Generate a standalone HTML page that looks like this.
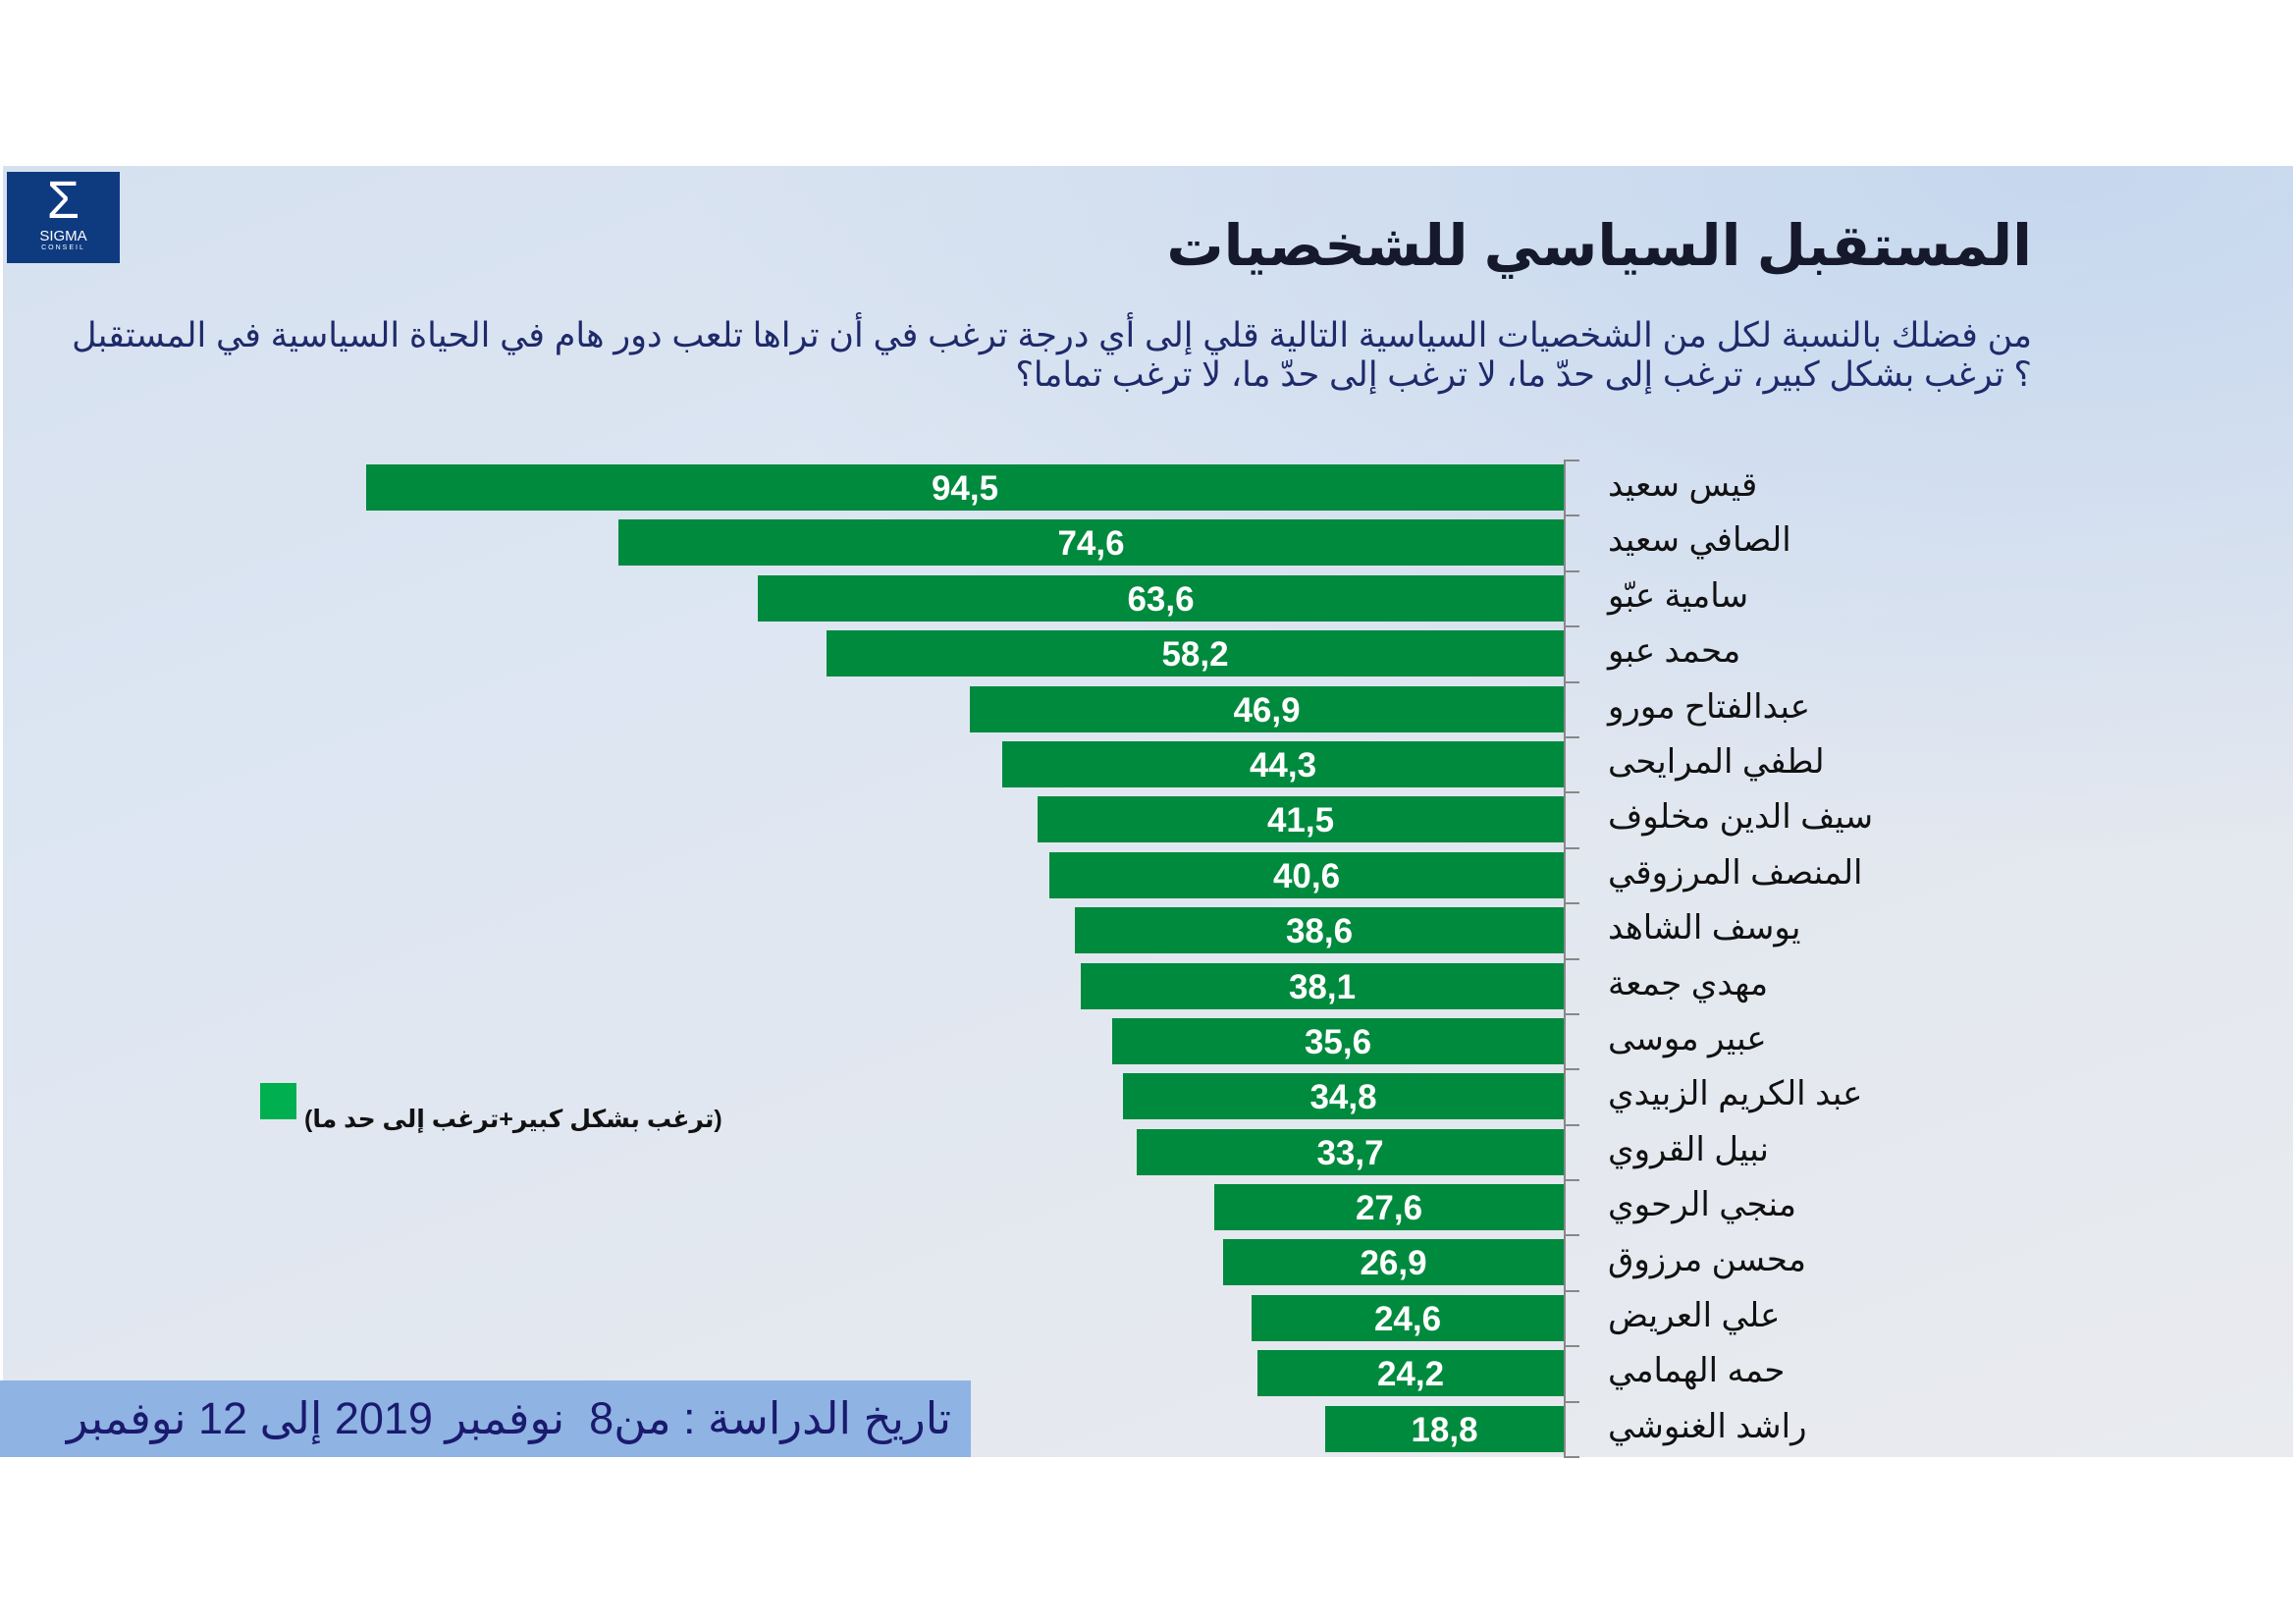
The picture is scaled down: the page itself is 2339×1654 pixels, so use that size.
<!DOCTYPE html>
<html><head><meta charset="utf-8"><style>
html,body{margin:0;padding:0;}
body{width:2339px;height:1654px;position:relative;background:#fff;overflow:hidden;font-family:"Liberation Sans","Noto Sans CJK SC","DejaVu Sans",sans-serif;}
#bg{position:absolute;left:3px;top:169px;width:2333px;height:1315px;
background:radial-gradient(ellipse 1400px 700px at 2100px 0px,#c6d7ee 0%,rgba(205,218,238,0) 100%),linear-gradient(160deg,#d6e1f0 0%,#dde6f2 35%,#e4e8ef 70%,#e9ebef 100%);}
.logo{position:absolute;left:7px;top:175px;width:115px;height:93px;background:#0e3a80;color:#fff;text-align:center;}
.title{position:absolute;right:269px;top:216px;font-size:58px;font-weight:bold;color:#15192b;direction:rtl;white-space:nowrap;}
.sub{position:absolute;right:269px;font-size:35px;color:#1f2a6b;direction:rtl;white-space:nowrap;}
.bar{position:absolute;height:47px;background:#008a3e;color:#fff;font-weight:bold;font-size:35px;text-align:center;line-height:49px;}
.lab{position:absolute;left:1638px;font-size:34px;color:#111;direction:rtl;text-align:left;white-space:nowrap;line-height:47px;}
.axis{position:absolute;left:1593px;top:468px;width:2px;height:1016px;background:#888;}
.tick{position:absolute;left:1593px;width:16px;height:2px;background:#888;}
.date{position:absolute;left:0;top:1406px;width:989px;height:78px;background:#8fb3e3;color:#1a1a6e;font-size:45px;direction:rtl;text-align:right;line-height:78px;white-space:nowrap;}
</style></head><body>
<div id="bg"></div>
<div class="logo"><div style="font-size:54px;line-height:58px;">Σ</div><div style="font-size:15px;line-height:16px;">SIGMA</div><div style="font-size:7px;letter-spacing:2px;">CONSEIL</div></div>
<div class="title">المستقبل السياسي للشخصيات</div>
<div class="sub" style="top:322px;">من فضلك بالنسبة لكل من الشخصيات السياسية التالية قلي إلى أي درجة ترغب في أن تراها تلعب دور هام في الحياة السياسية في المستقبل</div>
<div class="sub" style="top:362px;">؟ ترغب بشكل كبير، ترغب إلى حدّ ما، لا ترغب إلى حدّ ما، لا ترغب تماما؟</div>
<div class="axis"></div>
<div id="chart"></div>
<div style="position:absolute;left:265px;top:1103px;width:37px;height:37px;background:#00b050;"></div>
<div style="position:absolute;left:310px;top:1125px;font-size:25px;font-weight:bold;color:#111;direction:rtl;white-space:nowrap;">(ترغب بشكل كبير+ترغب إلى حد ما)</div>
<div class="date"><span style="padding-right:20px;">تاريخ الدراسة : من8&nbsp; نوفمبر 2019 إلى 12 نوفمبر</span></div>
<script>
var d=[["قيس سعيد","94,5"],["الصافي سعيد","74,6"],["سامية عبّو","63,6"],["محمد عبو","58,2"],["عبدالفتاح مورو","46,9"],["لطفي المرايحى","44,3"],["سيف الدين مخلوف","41,5"],["المنصف المرزوقي","40,6"],["يوسف الشاهد","38,6"],["مهدي جمعة","38,1"],["عبير موسى","35,6"],["عبد الكريم الزبيدي","34,8"],["نبيل القروي","33,7"],["منجي الرحوي","27,6"],["محسن مرزوق","26,9"],["علي العريض","24,6"],["حمه الهمامي","24,2"],["راشد الغنوشي","18,8"]];
var h="",step=1015/18;
for(var i=0;i<d.length;i++){var v=parseFloat(d[i][1].replace(",","."));var w=v*12.91;var t=468+i*step;
h+='<div class="tick" style="top:'+Math.round(t)+'px"></div>';
h+='<div class="bar" style="left:'+Math.round(1593-w)+'px;width:'+Math.round(w)+'px;top:'+Math.round(t+5)+'px">'+d[i][1]+'</div>';
h+='<div class="lab" style="top:'+Math.round(t+3)+'px">'+d[i][0]+'</div>';}
h+='<div class="tick" style="top:1483px"></div>';
document.getElementById("chart").innerHTML=h;
</script>
</body></html>
